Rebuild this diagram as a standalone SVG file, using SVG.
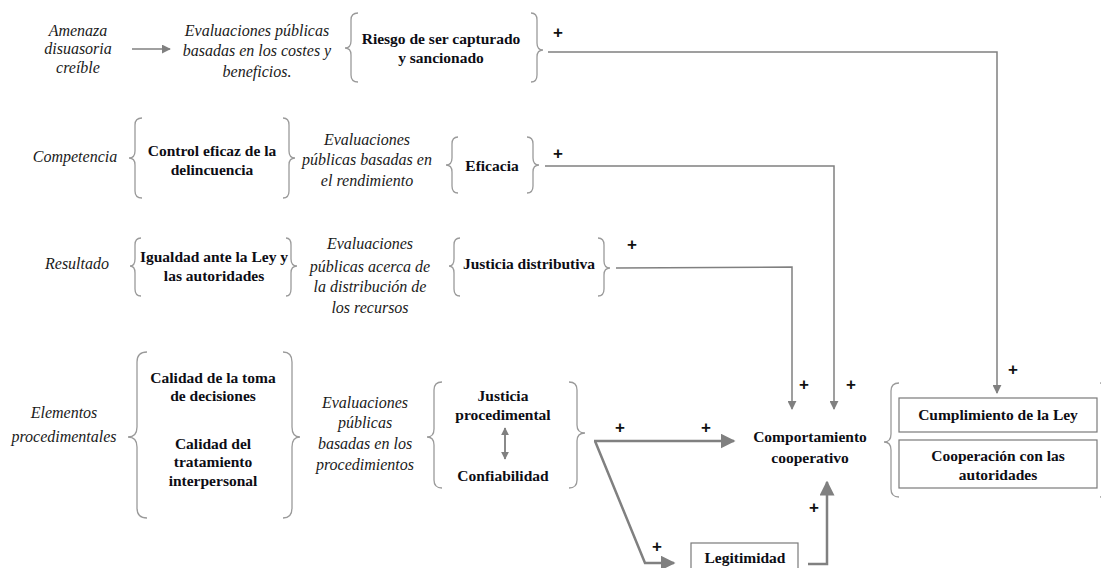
<svg xmlns="http://www.w3.org/2000/svg" width="1101" height="568" viewBox="0 0 1101 568">
<style>
.it{font-family:'Liberation Serif','DejaVu Serif',serif;font-style:italic;font-size:16px;fill:#1a1a1a;text-anchor:middle}
.b{font-family:'Liberation Serif','DejaVu Serif',serif;font-weight:bold;font-size:15.5px;fill:#0d0d14;text-anchor:middle}
.pl{font-family:'Liberation Sans','DejaVu Sans',sans-serif;font-weight:bold;font-size:17px;fill:#111;text-anchor:middle}
.br{fill:none;stroke:#9a9a9a;stroke-width:1.3}
.ln{fill:none;stroke:#808080;stroke-width:1.5}
.lt{fill:none;stroke:#808080;stroke-width:2.5}
.bx{fill:#fff;stroke:#7a7a7a;stroke-width:1.2}
</style>
<defs>
<marker id="ah" viewBox="0 0 10 10" refX="9" refY="5" markerWidth="9" markerHeight="9" markerUnits="userSpaceOnUse" orient="auto"><path d="M0,0 L10,5 L0,10 z" fill="#808080"/></marker>
<marker id="ahb" viewBox="0 0 10 10" refX="9" refY="5" markerWidth="6" markerHeight="6" orient="auto"><path d="M0,0 L10,5 L0,10 z" fill="#808080"/></marker>
<marker id="ahs" viewBox="0 0 10 10" refX="9" refY="5" markerWidth="8" markerHeight="8" markerUnits="userSpaceOnUse" orient="auto-start-reverse"><path d="M0,0 L10,5 L0,10 z" fill="#808080"/></marker>
</defs>
<rect width="1101" height="568" fill="#fff"/>

<g id="amenaza"><text class="it" x="78" y="36">Amenaza</text><text class="it" x="78" y="54">disuasoria</text><text class="it" x="78" y="73">creíble</text></g>
<g id="eval-costes"><text class="it" x="257" y="36">Evaluaciones públicas</text><text class="it" x="257" y="56">basadas en los costes y</text><text class="it" x="257" y="77">beneficios.</text></g>
<g id="riesgo">
<path class="br" d="M358,13 Q351,13 351,20 L351,41 Q351,48 345,48 Q351,48 351,55 L351,75 Q351,82 358,82"/>
<text class="b" x="441" y="44">Riesgo de ser capturado</text><text class="b" x="441" y="63">y sancionado</text>
<path class="br" d="M531,13 Q537,13 537,20 L537,43 Q537,50 543,50 Q537,50 537,57 L537,75 Q537,82 531,82"/>
</g>

<g id="competencia"><text class="it" x="75" y="162">Competencia</text></g>
<g id="control">
<path class="br" d="M142,118 Q135,118 135,125 L135,151 Q135,158 129,158 Q135,158 135,165 L135,191 Q135,198 142,198"/>
<text class="b" x="212" y="156">Control eficaz de la</text><text class="b" x="212" y="175">delincuencia</text>
<path class="br" d="M283,118 Q289,118 289,125 L289,151 Q289,158 295,158 Q289,158 289,165 L289,191 Q289,198 283,198"/>
</g>
<g id="eval-rend"><text class="it" x="367" y="145">Evaluaciones</text><text class="it" x="367" y="165">públicas basadas en</text><text class="it" x="367" y="186">el rendimiento</text></g>
<g id="eficacia">
<path class="br" d="M458,137 Q452,137 452,144 L452,158 Q452,165 446,165 Q452,165 452,172 L452,186 Q452,193 458,193"/>
<text class="b" x="492" y="171">Eficacia</text>
<path class="br" d="M527,137 Q533,137 533,144 L533,158 Q533,165 539,165 Q533,165 533,172 L533,186 Q533,193 527,193"/>
</g>

<g id="resultado"><text class="it" x="77" y="269">Resultado</text></g>
<g id="igualdad">
<path class="br" d="M141,238 Q135,238 135,245 L135,259 Q135,266 130,266 Q135,266 135,273 L135,289 Q135,296 141,296"/>
<text class="b" x="214" y="262">Igualdad ante la Ley y</text><text class="b" x="214" y="281">las autoridades</text>
<path class="br" d="M286,238 Q291,238 291,245 L291,259 Q291,266 297,266 Q291,266 291,273 L291,289 Q291,296 286,296"/>
</g>
<g id="eval-distr"><text class="it" x="370" y="249">Evaluaciones</text><text class="it" x="370" y="272">públicas acerca de</text><text class="it" x="370" y="292">la distribución de</text><text class="it" x="370" y="313">los recursos</text></g>
<g id="justicia-distr">
<path class="br" d="M460,238 Q454,238 454,245 L454,259 Q454,266 449,266 Q454,266 454,273 L454,289 Q454,296 460,296"/>
<text class="b" x="529" y="269">Justicia distributiva</text>
<path class="br" d="M598,238 Q604,238 604,245 L604,261 Q604,268 610,268 Q604,268 604,275 L604,289 Q604,296 598,296"/>
</g>

<g id="elementos"><text class="it" x="64" y="418">Elementos</text><text class="it" x="64" y="442">procedimentales</text></g>
<g id="calidad">
<path class="br" d="M147,352 Q137,352 137,362 L137,427 Q137,437 128,437 Q137,437 137,447 L137,508 Q137,518 147,518"/>
<text class="b" x="213" y="383">Calidad de la toma</text><text class="b" x="213" y="401">de decisiones</text>
<text class="b" x="213" y="449">Calidad del</text><text class="b" x="213" y="467">tratamiento</text><text class="b" x="213" y="486">interpersonal</text>
<path class="br" d="M283,352 Q292,352 292,362 L292,427 Q292,437 300,437 Q292,437 292,447 L292,508 Q292,518 283,518"/>
</g>
<g id="eval-proc"><text class="it" x="365" y="408">Evaluaciones</text><text class="it" x="365" y="428">públicas</text><text class="it" x="365" y="449">basadas en los</text><text class="it" x="365" y="470">procedimientos</text></g>
<g id="justicia-proc">
<path class="br" d="M442,382 Q434,382 434,390 L434,429 Q434,437 427,437 Q434,437 434,445 L434,480 Q434,488 442,488"/>
<text class="b" x="503" y="401">Justicia</text><text class="b" x="503" y="420">procedimental</text>
<line x1="505" y1="428" x2="505" y2="459" stroke="#8a8a8a" stroke-width="2" marker-start="url(#ahs)" marker-end="url(#ahs)"/>
<text class="b" x="503" y="481">Confiabilidad</text>
<path class="br" d="M569,382 Q577,382 577,390 L577,425 Q577,433 585,433 Q577,433 577,441 L577,480 Q577,488 569,488"/>
</g>

<g id="comportamiento"><text class="b" x="810" y="442">Comportamiento</text><text class="b" x="810" y="463">cooperativo</text></g>
<g id="resultados">
<path class="br" d="M899,383 Q891,383 891,391 L891,434 Q891,442 884,442 Q891,442 891,450 L891,489 Q891,497 899,497"/>
<rect class="bx" x="899" y="398" width="198" height="34"/>
<text class="b" x="998" y="420">Cumplimiento de la Ley</text>
<rect class="bx" x="899" y="440" width="198" height="48"/>
<text class="b" x="998" y="461">Cooperación con las</text><text class="b" x="998" y="480">autoridades</text>
<path class="br" d="M1100,383 Q1106,383 1106,391 L1106,489 Q1106,497 1100,497"/>
</g>
<g id="legitimidad">
<rect class="bx" x="691" y="543" width="107" height="34"/>
<text class="b" x="745" y="563">Legitimidad</text>
</g>

<g id="connectors">
<line class="ln" x1="132" y1="49" x2="170" y2="49" marker-end="url(#ah)"/>
<polyline class="ln" points="548,52 997,52 997,393" marker-end="url(#ah)"/>
<polyline class="ln" points="545,166 834,166 834,409" marker-end="url(#ah)"/>
<polyline class="ln" points="616,268 792,267 792,409" marker-end="url(#ah)"/>
<line class="lt" x1="594" y1="441" x2="734" y2="441" marker-end="url(#ahb)"/>
<polyline class="lt" points="595,441 645,563 674,563" marker-end="url(#ahb)"/>
<polyline class="lt" points="808,564 827,564 827,482" marker-end="url(#ahb)"/>
</g>
<g id="labels">
<text class="pl" x="558" y="38">+</text>
<text class="pl" x="558" y="159">+</text>
<text class="pl" x="632" y="250">+</text>
<text class="pl" x="804" y="390">+</text>
<text class="pl" x="851" y="390">+</text>
<text class="pl" x="1013" y="375">+</text>
<text class="pl" x="620" y="433">+</text>
<text class="pl" x="706" y="433">+</text>
<text class="pl" x="657" y="552">+</text>
<text class="pl" x="814" y="513">+</text>
</g>
</svg>
